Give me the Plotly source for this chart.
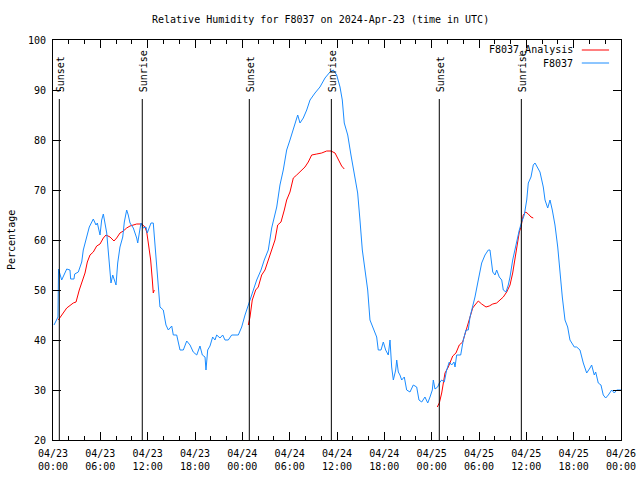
import pandas as pd
import plotly.graph_objects as go

START = pd.Timestamp("2024-04-23 00:00")

# Observed F8037 relative humidity: hours since 2024-04-23 00:00 UTC, percent
blue_h = [0.13, 0.63, 0.70, 1.10, 1.39, 1.74, 2.15, 2.24, 2.66, 2.75, 3.21, 3.64, 3.84, 4.18, 4.60,
          5.11, 5.45, 5.62, 5.96, 6.17, 6.38, 6.81, 7.10, 7.35, 7.57, 7.73, 7.99, 8.20, 8.49, 8.84,
          9.04, 9.34, 9.54, 9.76, 10.18, 10.61, 10.74, 10.94, 11.15, 11.45, 11.79, 11.95, 12.21,
          12.42, 12.71, 12.93, 13.14, 13.35, 13.56, 13.98, 14.32, 14.62, 15.05, 15.25, 15.68, 16.10,
          16.52, 16.95, 17.37, 17.78, 18.22, 18.63, 18.93, 19.27, 19.39, 19.61, 19.90, 20.24, 20.53,
          20.75, 21.17, 21.51, 21.80, 22.22, 22.65, 23.49, 23.92, 24.34, 24.76, 25.19, 25.82, 26.37,
          26.78, 27.29, 27.72, 28.36, 28.77, 29.19, 29.62, 30.04, 30.59, 31.02, 31.31, 31.73, 32.16,
          32.58, 33.21, 33.84, 34.48, 35.11, 35.53, 35.96, 36.38, 36.67, 36.92, 37.36, 37.77, 38.19,
          38.62, 38.91, 39.21, 39.55, 39.89, 40.18, 40.60, 41.03, 41.23, 41.58, 41.87, 42.17, 42.50,
          42.72, 42.93, 43.14, 43.44, 43.57, 43.77, 43.98, 44.20, 44.53, 44.83, 45.25, 45.67, 46.10,
          46.39, 46.74, 47.15, 47.50, 47.79, 48.08, 48.21, 48.42, 48.76, 48.97, 49.27, 49.60, 49.90,
          50.23, 50.54, 50.83, 50.96, 51.17, 51.68, 52.01, 52.35, 52.64, 52.86, 53.20, 53.49, 53.91,
          54.34, 54.76, 55.18, 55.39, 55.74, 56.03, 56.24, 56.57, 56.88, 57.08, 57.42, 57.71, 57.93,
          58.27, 58.56, 58.85, 59.11, 59.41, 59.74, 60.05, 60.25, 60.59, 60.88, 61.10, 61.44, 61.73,
          62.15, 62.37, 62.71, 63.00, 63.29, 63.63, 63.98, 64.27, 64.56, 64.90, 65.24, 65.53, 66.08,
          66.38, 66.80, 67.22, 67.65, 68.07, 68.28, 68.61, 68.79, 69.12, 69.46, 69.75, 70.06, 70.39,
          70.82, 71.15, 71.46, 72.0]
blue_v = [43, 44.6, 54.2, 52, 53, 54.2, 54, 52.2, 52.2, 53.2, 53.6, 55.6, 58, 60, 62.6,
          64.2, 63, 63.4, 61, 64, 65.2, 61.4, 56, 51.4, 53, 52.2, 51, 55.4, 58.6, 60.6,
          63.6, 66, 65, 63.4, 62.4, 60.4, 59.4, 61.4, 63.4, 62.4, 62.6, 61.4, 62.4,
          63.4, 63.4, 58.6, 55.4, 50, 46.6, 46, 43, 42, 42.8, 41, 41, 38,
          38, 39.8, 39, 37.6, 37, 38.8, 37, 36.6, 34, 38, 38.8, 40.6, 40,
          41, 40.4, 41, 40, 40, 41, 41, 42.6, 45, 47, 49.4, 52, 54,
          56, 58, 62.4, 66.6, 71, 74, 78, 80, 83, 85, 83.4, 84.4, 86,
          88, 89.4, 90.6, 92.4, 93.6, 94, 93, 90.6, 88, 83.4, 81, 77, 73.6,
          69.4, 64, 58, 54, 50, 44, 42.4, 40.6, 38, 38, 39.6, 38, 37,
          40, 34.6, 32, 34, 36, 33.6, 33, 32, 32.6, 30, 29.6, 31, 30.6,
          28, 27.6, 28.6, 27.4, 28.6, 30, 32, 30.2, 30.6, 31.4, 32, 31.6, 34,
          35.6, 35, 35.6, 34.6, 37, 37, 40, 42, 42, 44.6, 46.6, 48.6, 52,
          55.4, 57, 58, 58, 53.6, 53, 54, 52.6, 52, 50, 49.6, 51, 52.6,
          56, 58, 60.6, 62, 63.6, 65, 68, 71.4, 72.6, 75, 75.4, 74.4, 73.6,
          70.6, 68, 66.4, 68, 66, 63, 58.6, 53.4, 48.6, 44, 42.6, 40, 38.6,
          38.6, 38, 35.4, 33.4, 34.4, 35, 33, 33.6, 31.4, 31, 29, 28.4, 29,
          30, 29.4, 30, 30]

# Analysis series (three separate runs, None = gap)
red_h = [0.67, 1.10, 1.74, 2.57, 2.92, 3.33, 3.64, 4.06, 4.35, 4.69, 5.11, 5.54, 5.96, 6.38, 6.72,
         7.23, 7.73, 8.07, 8.49, 8.91, 9.34, 9.76, 10.61, 11.24, 11.66, 11.88, 12.08, 12.38, 12.59,
         12.71, 12.84, None,
         24.76, 24.97, 25.26, 25.69, 26.02, 26.45, 26.87, 27.29, 27.72, 28.14, 28.48, 28.90, 29.32,
         29.62, 30.04, 30.46, 30.89, 31.53, 31.94, 32.36, 32.79, 33.43, 34.06, 34.69, 35.24, 35.75,
         36.16, 36.59, 36.92, None,
         48.71, 48.97, 49.27, 49.69, 50.11, 50.67, 51.08, 51.50, 51.93, 52.35, 52.77, 53.20, 53.49,
         53.91, 54.34, 54.89, 55.30, 55.74, 56.24, 56.66, 57.08, 57.51, 57.93, 58.27, 58.56, 58.85,
         59.11, 59.32, 59.61, 59.92, 60.25, 60.59, 60.88]
red_v = [44, 45, 46.4, 47.4, 47.6, 50, 51.4, 53.4, 55.6, 57, 57.6, 58.8, 59.2, 60.4, 61,
         60.6, 59.8, 60.4, 61.4, 61.8, 62.4, 62.8, 63.2, 63.2, 62.6, 61.6, 59.4, 56, 52,
         49.4, 50, None,
         43, 44.6, 48, 50, 50.6, 53, 54, 56, 58, 60, 63, 63.6, 66,
         68, 69.6, 72.4, 73, 74, 74.6, 75.6, 77, 77.2, 77.4, 77.8, 77.8, 77.4,
         76, 74.8, 74.2, None,
         26.6, 27.4, 29.4, 33.4, 34.6, 36.8, 37.4, 39, 39.6, 42, 44.4, 46.4, 47,
         47.8, 47.2, 46.6, 46.8, 47.2, 47.4, 48, 48.6, 49.6, 51, 53.4, 56, 59.4,
         61.6, 62.6, 65, 65.6, 65.2, 64.6, 64.4]

sun_times = ["2024-04-23 00:48", "2024-04-23 11:19", "2024-04-24 00:53",
             "2024-04-24 11:17", "2024-04-25 00:58", "2024-04-25 11:22"]
sun_labels = ["Sunset", "Sunrise", "Sunset", "Sunrise", "Sunset", "Sunrise"]

series_names = ["F8037_Analysis", "F8037"]
series_colors = ["#ff0000", "#1a8cff"]


def to_time(hours):
    return [None if h is None else START + pd.Timedelta(hours=h) for h in hours]


FONT = "DejaVu Sans Mono"
fig = go.Figure()
fig.add_trace(go.Scatter(x=to_time(red_h), y=red_v, mode="lines", name=series_names[0],
                         line=dict(color=series_colors[0], width=1), connectgaps=False,
                         showlegend=False))
fig.add_trace(go.Scatter(x=to_time(blue_h), y=blue_v, mode="lines", name=series_names[1],
                         line=dict(color=series_colors[1], width=1), showlegend=False))

# sunrise / sunset markers
for t, lab in zip(sun_times, sun_labels):
    fig.add_shape(type="line", xref="x", yref="y", x0=t, x1=t, y0=20, y1=88.2,
                  line=dict(color="black", width=1))
    fig.add_annotation(x=t, y=89.6, xref="x", yref="y", text=lab, textangle=-90,
                       showarrow=False, xanchor="center", yanchor="bottom", xshift=1,
                       borderpad=0, borderwidth=0,
                       font=dict(family=FONT, size=10, color="black"))

# gnuplot-style key (text right-aligned, sample line on the right)
for i, (nm, col) in enumerate(zip(series_names, series_colors)):
    ypix = 50 + 13 * i
    yp = (440 - ypix) / 400
    fig.add_annotation(x=0.919, y=yp, xref="paper", yref="paper", text=nm, showarrow=False,
                       xanchor="right", yanchor="middle", font=dict(family=FONT, size=10, color="black"))
    fig.add_shape(type="line", xref="paper", yref="paper", x0=0.931, x1=0.979, y0=yp, y1=yp,
                  line=dict(color=col, width=1))

# title and y label
fig.add_annotation(text="Relative Humidity for F8037 on 2024-Apr-23 (time in UTC)",
                   xref="paper", yref="paper", x=(320 - 53) / 568, y=(440 - 19) / 400,
                   showarrow=False, xanchor="center", yanchor="middle",
                   font=dict(family=FONT, size=10, color="black"))
fig.add_annotation(text="Percentage", xref="paper", yref="paper", x=(11 - 53) / 568, y=0.5,
                   textangle=-90, showarrow=False, xanchor="center", yanchor="middle",
                   font=dict(family=FONT, size=10, color="black"))

tickvals = pd.date_range("2024-04-23", "2024-04-26", freq="6h")
ticktext = [t.strftime("%m/%d") + "<br>" + t.strftime("%H:%M") for t in tickvals]

fig.update_xaxes(range=["2024-04-23 00:00", "2024-04-26 00:00"], tickvals=tickvals, ticktext=ticktext,
                 ticks="inside", ticklen=8, tickcolor="black", tickwidth=1,
                 minor=dict(ticks="inside", dtick=2 * 3600 * 1000, ticklen=4, tickcolor="black"),
                 showline=True, linecolor="black", linewidth=1, mirror="allticks",
                 showgrid=False, zeroline=False, automargin=False, ticklabelstandoff=4,
                 tickfont=dict(family=FONT, size=10, color="black"))
fig.update_yaxes(range=[20, 100], dtick=10, ticks="inside", ticklen=8, tickcolor="black", tickwidth=1,
                 showline=True, linecolor="black", linewidth=1, mirror="allticks",
                 showgrid=False, zeroline=False, ticklabelstandoff=4, automargin=False,
                 tickfont=dict(family=FONT, size=10, color="black"))

fig.update_layout(width=640, height=480, autosize=False, margin=dict(l=53, r=19, t=40, b=40),
                  plot_bgcolor="white", paper_bgcolor="white", showlegend=False)

fig.write_html("out.html",
               config={"displayModeBar": False, "responsive": False},
               default_width="640px", default_height="480px",
               post_script="document.body.style.margin='0px';document.body.style.overflow='hidden';")
